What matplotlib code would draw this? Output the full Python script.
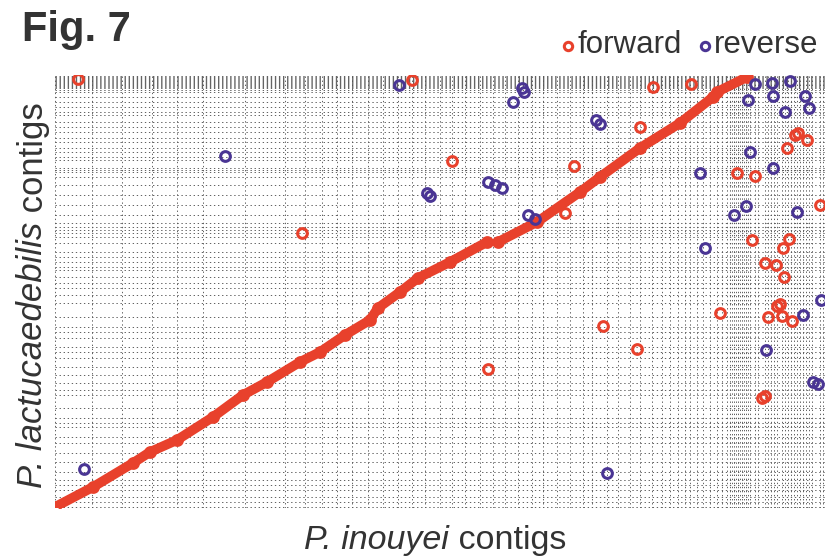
import matplotlib.pyplot as plt

plt.rcParams['font.family'] = ['Liberation Sans', 'DejaVu Sans']

# contig boundaries (Mb) along each genome
x_bounds = [0, 3.7, 6.7, 9.7, 12.2, 14.8, 19.0, 23.0, 25.0, 26.7, 28.2, 29.7, 31.3, 32.8,
            34.3, 35.7, 37.0, 38.5, 39.7, 41.0, 42.5, 43.8, 45.0, 46.3, 47.7, 48.8, 50.2,
            51.5, 52.8, 53.7, 55.2, 56.3, 57.5, 58.5, 59.7, 60.7, 61.5, 62.3, 63.0, 63.5,
            64.2, 64.8, 65.5, 66.2, 66.7, 67.2, 67.5, 67.7, 67.9, 68.1, 68.3, 68.5, 68.7,
            68.9, 69.1, 69.3, 69.5, 70.0, 70.3, 71.0, 71.3, 71.6, 71.9, 72.2, 72.7, 73.0,
            73.3, 73.6, 73.9, 74.2, 74.5, 74.8, 75.1, 75.4, 75.7, 76.5, 76.8]
y_bounds = [0.1, 0.6, 1.1, 1.8, 2.3, 2.8, 3.6, 4.6, 5.5, 6.5, 7.1, 8.1, 8.5, 9.0, 10.0,
            11.3, 11.8, 12.5, 13.3, 14.1, 15.0, 15.6, 16.1, 17.0, 17.6, 18.1, 19.1, 20.5,
            21.3, 22.0, 22.5, 23.1, 23.8, 24.1, 24.6, 25.1, 25.6, 26.5, 27.1, 27.5, 27.8,
            28.1, 28.5, 29.3, 30.3, 31.3, 32.3, 33.1, 33.6, 33.8, 34.0, 34.8, 35.1, 35.6,
            36.0, 36.6, 37.0, 37.6, 38.1, 38.6, 39.3, 39.6, 40.1, 40.6, 41.1, 41.6, 41.8,
            42.0, 42.1, 42.2, 42.3, 42.4, 42.5, 42.6, 42.7, 42.8, 42.9, 43.0, 43.1, 43.2]

# main syntenic diagonal (forward hits)
diag_x = [0.0, 3.8, 7.8, 9.5, 12.2, 15.8, 18.8, 21.2, 24.5, 26.5, 29.0, 31.5, 32.3, 34.5,
          36.3, 39.5, 43.2]
diag_y = [0.1, 2.1, 4.5, 5.6, 6.8, 9.1, 11.3, 12.6, 14.6, 15.6, 17.3, 18.8, 20.0, 21.6,
          23.0, 24.6, 26.6]
diag2_x = [44.3, 48.2, 52.5, 54.5, 58.5, 62.5, 65.8, 66.2, 69.2]
diag2_y = [26.6, 28.6, 31.6, 33.1, 36.0, 38.5, 41.1, 41.6, 43.1]

# scattered forward hits
fwd_x = [2.3, 35.7, 59.8, 63.6, 39.7, 24.7, 51.9, 51.0, 58.5, 54.8, 58.2, 43.3, 66.5,
         68.2, 70.0, 74.0, 74.3, 75.2, 73.2, 76.5, 69.7, 73.4, 72.8, 71.0, 72.1, 72.9,
         72.2, 72.5, 71.3, 72.7, 73.7, 70.7, 71.0]
fwd_y = [42.9, 42.8, 42.1, 42.4, 34.7, 27.5, 34.2, 29.5, 38.1, 18.2, 15.9, 13.9, 19.5,
         33.5, 33.2, 37.3, 37.5, 36.8, 36.0, 30.3, 26.8, 26.9, 26.0, 24.5, 24.3, 23.1,
         20.2, 20.4, 19.1, 19.2, 18.7, 11.0, 11.2]

# reverse hits
rev_x = [34.4, 46.7, 46.9, 45.8, 54.1, 54.5, 17.0, 37.2, 37.5, 43.3, 44.0, 44.7, 47.3,
         48.0, 64.5, 70.0, 71.7, 73.5, 69.3, 71.8, 75.0, 73.0, 75.4, 69.5, 71.8, 69.1,
         67.9, 74.2, 65.0, 76.6, 74.8, 71.1, 75.8, 76.3, 2.9, 55.2]
rev_y = [42.3, 42.0, 41.6, 40.6, 38.8, 38.4, 35.2, 31.5, 31.2, 32.6, 32.3, 32.0, 29.3,
         28.9, 33.5, 42.4, 42.5, 42.7, 40.8, 41.2, 41.2, 39.6, 40.0, 35.6, 34.0, 30.2,
         29.3, 29.6, 26.0, 20.8, 19.3, 15.8, 12.6, 12.4, 3.9, 3.5]

red = '#e8412c'
blue = '#4a3594'
txt = '#333333'

fig = plt.figure(figsize=(8.25, 5.58), dpi=100)
ax = fig.add_axes([55 / 825, 50 / 558, 770 / 825, 433 / 558])
ax.set_xlim(0, 77)
ax.set_ylim(0, 43.3)

for b in x_bounds:
    ax.axvline(b, color='#555555', lw=0.65, ls=(0, (1.5, 3)), zorder=1)
for b in y_bounds:
    ax.axhline(b, color='#555555', lw=0.65, ls=(0, (1.5, 3)), zorder=1)

mk = dict(ls='none', marker='o', mfc='none', ms=7, mew=2.2, zorder=3)
ax.plot(diag_x, diag_y, color=red, lw=7, solid_capstyle='round', zorder=2)
ax.plot(diag2_x, diag2_y, color=red, lw=7, solid_capstyle='round', zorder=2)
ax.plot(diag_x + diag2_x, diag_y + diag2_y, mec=red, **mk)
ax.plot(fwd_x, fwd_y, mec=red, **mk)
ax.plot(rev_x, rev_y, mec=blue, **mk)

ax.set_xticks([])
ax.set_yticks([])
for s in ax.spines.values():
    s.set_visible(False)

fig.text(22 / 825, 1 - 30 / 558, 'Fig. 7', fontsize=30, fontweight='bold',
         color=txt, va='center', ha='left')

# legend
fig.lines.append(plt.Line2D([568 / 825], [1 - 46 / 558], transform=fig.transFigure,
                            marker='o', mfc='none', mec=red, ms=6, mew=2.2))
fig.text(578 / 825, 1 - 45 / 558, 'forward', fontsize=22.5, color=txt, va='center')
fig.lines.append(plt.Line2D([705 / 825], [1 - 46 / 558], transform=fig.transFigure,
                            marker='o', mfc='none', mec=blue, ms=6, mew=2.2))
fig.text(714 / 825, 1 - 45 / 558, 'reverse', fontsize=22.5, color=txt, va='center')

# axis labels: italic species name + plain word
r = fig.canvas.get_renderer()
it = fig.text(0, 0, 'P. inouyei', fontsize=24.5, style='italic', color=txt, va='center')
pl = fig.text(0, 0, ' contigs', fontsize=24.5, color=txt, va='center')
w1 = it.get_window_extent(r).width
w2 = pl.get_window_extent(r).width
x0 = 435 - (w1 + w2) / 2
it.set_position((x0 / 825, 1 - 540 / 558))
pl.set_position(((x0 + w1) / 825, 1 - 540 / 558))

it2 = fig.text(0, 0, 'P. lactucaedebilis', fontsize=25, style='italic', color=txt,
               ha='center', va='center', rotation=90)
pl2 = fig.text(0, 0, ' contigs', fontsize=25, color=txt, ha='center', va='center',
               rotation=90)
h1 = it2.get_window_extent(r).height
h2 = pl2.get_window_extent(r).height
y0 = 295 - (h1 + h2) / 2   # from top, pixels
it2.set_position((33 / 825, 1 - (y0 + h2 + h1 / 2) / 558))
pl2.set_position((33 / 825, 1 - (y0 + h2 / 2) / 558))

fig.savefig('out.png', dpi=100)
